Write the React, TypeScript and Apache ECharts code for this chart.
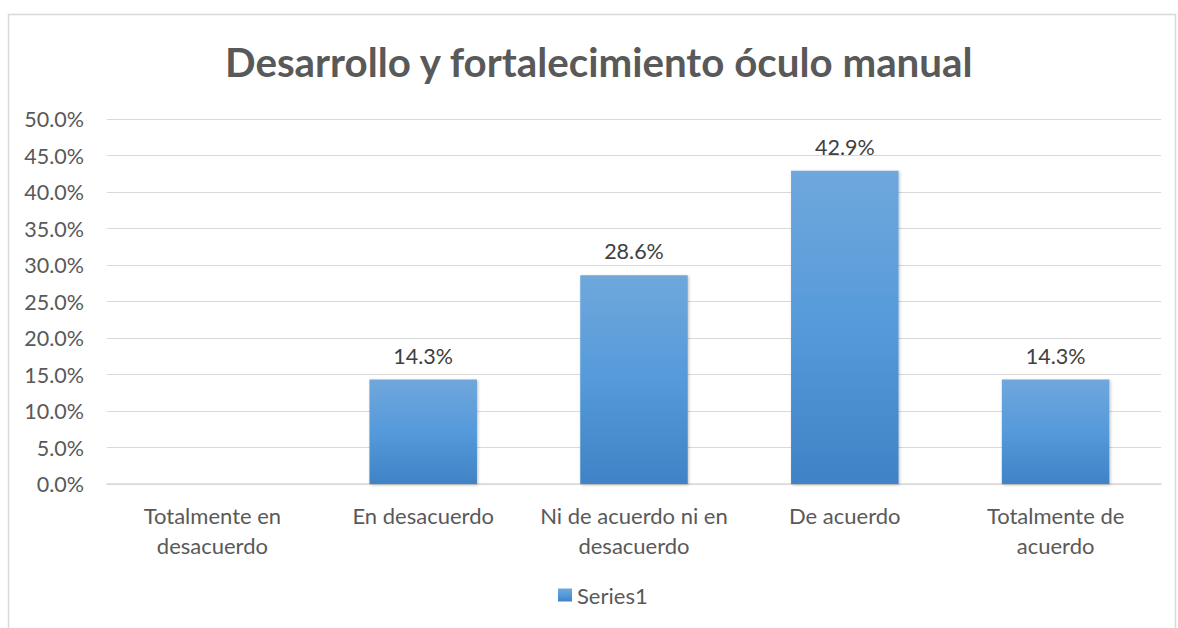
import React, { useEffect, useRef } from "react";
import * as echarts from "echarts";

const categories = [
  "Totalmente en\ndesacuerdo",
  "En desacuerdo",
  "Ni de acuerdo ni en\ndesacuerdo",
  "De acuerdo",
  "Totalmente de\nacuerdo",
];
const seriesName = "Series1";
const values = [0, 14.3, 28.6, 42.9, 14.3];
const titleText = "Desarrollo y fortalecimiento óculo manual";

const FONT = "Lato, 'Open Sans', sans-serif";

export default function App() {
  const ref = useRef<HTMLDivElement>(null);
  useEffect(() => {
    document.body.style.margin = "0";
    const chart = echarts.init(ref.current!, null, { renderer: "svg" });
    chart.setOption({
      animation: false,
      backgroundColor: "#ffffff",
      title: {
        text: titleText,
        left: 220,
        top: 36,
        textStyle: {
          fontFamily: FONT,
          fontSize: 40.3,
          fontWeight: "bold",
          color: "#595959",
        },
      },
      graphic: [
        {
          type: "rect",
          shape: { x: 8.5, y: 14.5, width: 1167, height: 640 },
          style: { fill: "none", stroke: "#d9d9d9", lineWidth: 1.5 },
          silent: true,
        },
      ],
      legend: {
        bottom: 17,
        left: 553,
        itemWidth: 14,
        itemHeight: 13,
        itemGap: 5,
        icon: "rect",
        textStyle: { fontFamily: FONT, fontSize: 22, color: "#595959" },
        data: [seriesName],
      },
      grid: { left: 107, right: 17, top: 119, bottom: 144, containLabel: false },
      xAxis: {
        type: "category",
        data: categories,
        axisLine: { lineStyle: { color: "#d9d9d9", width: 1.5 } },
        axisTick: { show: false },
        axisLabel: {
          fontFamily: FONT,
          fontSize: 22,
          color: "#595959",
          lineHeight: 30,
          margin: 16,
          interval: 0,
        },
      },
      yAxis: {
        type: "value",
        min: 0,
        max: 50,
        interval: 5,
        axisLine: { show: false },
        axisTick: { show: false },
        splitLine: { lineStyle: { color: "#d9d9d9", width: 1.2 } },
        axisLabel: {
          fontFamily: FONT,
          fontSize: 21.5,
          color: "#595959",
          margin: 23,
          formatter: (v: number) => v.toFixed(1) + "%",
        },
      },
      series: [
        {
          name: seriesName,
          type: "bar",
          data: values,
          barWidth: "51%",
          itemStyle: {
            color: new echarts.graphic.LinearGradient(0, 0, 0, 1, [
              { offset: 0, color: "#6fa7dc" },
              { offset: 0.5, color: "#559ada" },
              { offset: 1, color: "#3f83c6" },
            ]),
            shadowColor: "rgba(0,0,0,0.25)",
            shadowBlur: 3,
            shadowOffsetX: 1,
            shadowOffsetY: 1,
          },
          label: {
            show: true,
            position: "top",
            distance: 13,
            fontFamily: FONT,
            fontSize: 21.5,
            color: "#404040",
            formatter: (p: any) => (p.value === 0 ? "" : p.value.toFixed(1) + "%"),
          },
        },
      ],
    });
    return () => chart.dispose();
  }, []);
  return <div ref={ref} style={{ width: 1178, height: 628 }} />;
}
